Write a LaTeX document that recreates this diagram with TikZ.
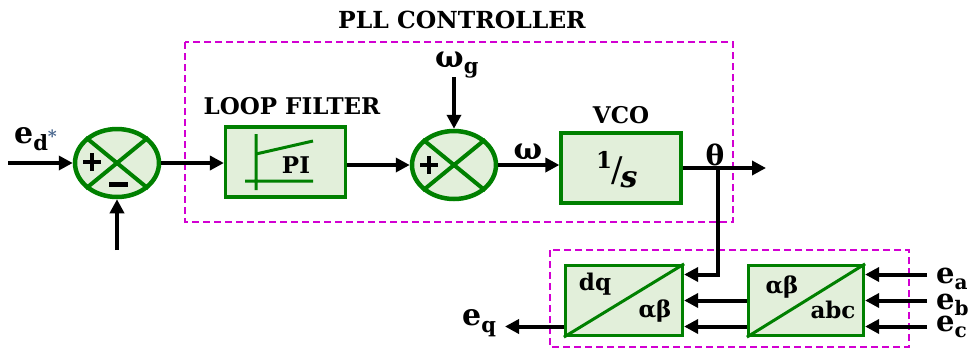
\documentclass[tikz,border=0pt]{standalone}
\usepackage{fontspec}
\setmainfont{DejaVu Serif}
\usetikzlibrary{arrows.meta,shapes.geometric}
\definecolor{bgreen}{RGB}{0,128,0}
\definecolor{lgreen}{RGB}{226,239,218}
\definecolor{mag}{RGB}{210,0,210}
\definecolor{stargray}{RGB}{70,100,140}
\newcommand\fs[1]{\fontsize{#1}{#1}\selectfont}
\newcommand\mysig[2]{\fs{29}e\raisebox{-6pt}{\fs{20}#2}}
\begin{document}
\begin{tikzpicture}[x=1pt,y=-1pt,font=\bfseries,
  blk/.style={draw=bgreen,fill=lgreen,line width=3.2pt,minimum width=120pt,minimum height=70pt,inner sep=0pt},
  sumn/.style={ellipse,draw=bgreen,fill=lgreen,line width=4.5pt,minimum width=84pt,minimum height=68pt,inner sep=0pt},
  sig/.style={line width=4pt,-{Triangle[length=14pt,width=14pt]}},
  gline/.style={draw=bgreen,line width=3pt},
  pm/.style={line width=4pt,black},
  grp/.style={draw=mag,line width=2.2pt,dash pattern=on 7pt off 4pt}]
\useasboundingbox (0,0) rectangle (975,349);
% group frames
\draw[grp] (185,42) rectangle (733,222);
\draw[grp] (550,250) rectangle (909,347);
\node[anchor=base,inner sep=0pt] (tpll) at (462,28) {\fs{23.5}PLL CONTROLLER};
\node[anchor=base,inner sep=0pt] (tlf) at (292,114) {\fs{23}LOOP FILTER};
\node[anchor=base,inner sep=0pt] (tvco) at (621,123) {\fs{23}VCO};
% summers
\node[sumn] (s1) at (117,163) {};
\draw[gline,line width=4pt] (s1.north west) -- (s1.south east) (s1.north east) -- (s1.south west);
\draw[pm] (83,162) -- (101,162) (92,153) -- (92,171);
\draw[pm,line width=5pt] (109,184) -- (128,184);
\node[sumn] (s2) at (454,165) {};
\draw[gline,line width=4pt] (s2.north west) -- (s2.south east) (s2.north east) -- (s2.south west);
\draw[pm] (420,165) -- (438,165) (429,156) -- (429,174);
% blocks
\node[blk] (pi) at (285.5,162) {};
\draw[gline] (256,134) -- (256,190) (245,181) -- (313,181) (256,154) -- (313,141);
\node[anchor=base,inner sep=0pt] (tpi) at (296,173) {\fs{23}PI};
\node[blk] (vco) at (621,168) {};
\node[anchor=base west,inner sep=0pt] (tinv) at (596,181) {\raisebox{13pt}{\fs{23}1}\kern-1pt{\fs{34}\mdseries /}\kern-2pt\raisebox{-6pt}{\fs{30}\itshape s}};
\node[blk,minimum width=117pt] (dq) at (624,300.5) {};
\draw[gline] (dq.south west) -- (dq.north east);
\node[anchor=base,inner sep=0pt] (tdq) at (595,290) {\fs{23}dq};
\node[anchor=base,inner sep=0pt] (tab1) at (655,317) {\fs{23}αβ};
\node[blk,minimum width=115pt] (abc) at (806,300.5) {};
\draw[gline] (abc.south west) -- (abc.north east);
\node[anchor=base,inner sep=0pt] (tab2) at (782,293) {\fs{23}αβ};
\node[anchor=base,inner sep=0pt] (tabc) at (833,318) {\fs{23}abc};
% signals
\coordinate (edin) at (8,163);
\draw[sig] (edin) -- (s1.west);
\node[anchor=base west,inner sep=0pt] (led) at (14,143) {\fs{30}e\raisebox{-7pt}{\fs{21}d}\raisebox{1pt}{\fs{17}\color{stargray}*}};
\coordinate (fb) at (117,250);
\draw[sig] (fb) -- (s1.south);
\draw[sig] (s1.east) -- (s1.east -| pi.west);
\draw[sig] (pi.east |- s2.west) -- (s2.west);
\coordinate (wgin) at (454,77);
\draw[sig] (wgin) -- (s2.north);
\node[anchor=base west,inner sep=0pt] (lwg) at (435,67) {\fs{30}ω\raisebox{-6pt}{\fs{21}g}};
\draw[sig] (s2.east) -- (s2.east -| vco.west);
\node[anchor=base,inner sep=0pt] (lw) at (528,159) {\fs{30}ω};
\coordinate (thout) at (766,168);
\draw[sig] (vco.east) -- (thout);
\node[anchor=base,inner sep=0pt] (lth) at (715,165) {\fs{28}θ};
\coordinate (br) at (718,168);
\draw[sig] (br) |- ([yshift=26pt]dq.east);
\draw[sig] (abc.west) -- (dq.east);
\draw[sig] ([yshift=-26pt]abc.west) -- ([yshift=-26pt]dq.east);
\coordinate (eqout) at (505,326.5);
\draw[sig] ([yshift=-26pt]dq.west) -- (eqout);
\node[anchor=base west,inner sep=0pt] (leq) at (462,325) {\fs{30}e\raisebox{-7pt}{\fs{21}q}};
\coordinate (ea) at (927,274.5);
\coordinate (eb) at (927,300.5);
\coordinate (ec) at (927,326.5);
\draw[sig] (ea) -- (ea -| abc.east);
\draw[sig] (eb) -- (eb -| abc.east);
\draw[sig] (ec) -- (ec -| abc.east);
\node[anchor=base west,inner sep=0pt] (lea) at (936,283) {\mysig{e}{a}};
\node[anchor=base west,inner sep=0pt] (leb) at (936,309) {\mysig{e}{b}};
\node[anchor=base west,inner sep=0pt] (lec) at (936,331) {\mysig{e}{c}};
\end{tikzpicture}
\end{document}
